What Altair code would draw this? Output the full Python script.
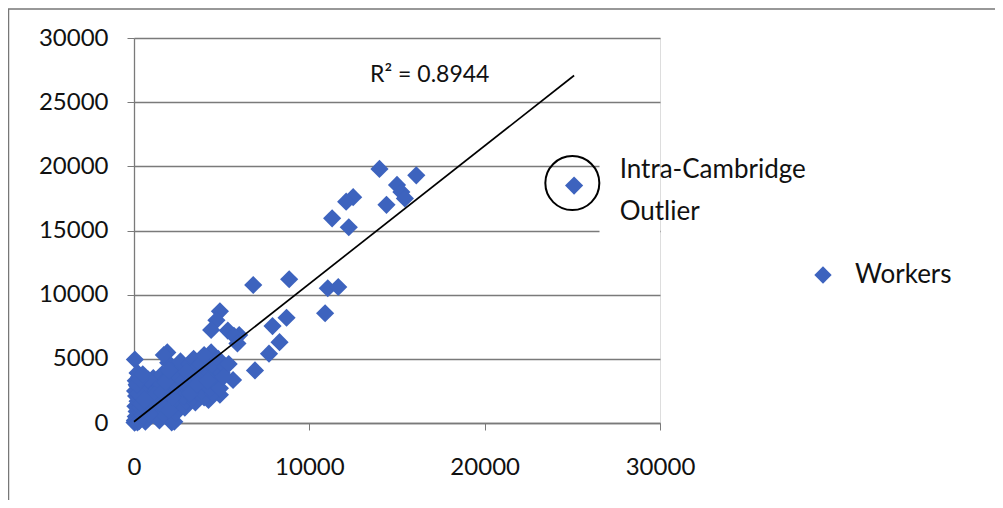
import altair as alt
import pandas as pd

# ---- data ----
worker_x = [
    14000, 16100, 15000, 15250, 15450, 14400, 12500, 12100, 11300, 12250,
    11050, 11650, 10900, 6800, 8850, 8700, 7900, 8300, 7700, 6000,
    4900, 4700, 4400, 5350, 5700, 5900, 6900, 5650, 4900, 4250,
    4000, 4900, 50, 1900, 2150, 25100,
    50, 100, 150, 80, 200, 120, 60, 180, 100, 300,
    250, 400, 350, 500, 450, 550, 400, 600, 700, 650,
    800, 900, 750, 950, 850, 1000, 1100, 1200, 1300, 1150,
    1400, 1250, 1500, 1350, 1600, 1450, 1700, 1800, 1650, 1900,
    1750, 2000, 1850, 2100, 2200, 1950, 2300, 2400, 2250, 2500,
    2350, 2600, 2450, 2700, 2550, 2800, 2650, 2900, 3000, 2850,
    3100, 2950, 3200, 3050, 3300, 3150, 3400, 3500, 3350, 3600,
    3450, 3700, 3550, 3800, 3650, 3900, 4000, 3850, 4100, 3950,
    4200, 4050, 4300, 4150, 4400, 4500, 4350, 4600, 4450, 4700,
    4550, 4800, 5000, 5200, 4900, 30, 100, 200, 300, 500,
    700, 900, 400, 250, 150, 1000, 1200, 1500, 600, 800,
    1600, 2000, 2200, 2400, 2600, 1800, 2000, 1700, 2800, 3000,
    3200, 3600, 3800, 4000, 4200, 200, 350, 500, 5400, 5100,
]
worker_y = [
    19800, 19300, 18550, 18000, 17500, 17000, 17600, 17250, 15950, 15250,
    10500, 10600, 8550, 10750, 11200, 8200, 7550, 6300, 5400, 6850,
    8700, 8000, 7250, 7200, 6800, 6200, 4100, 3350, 2200, 1800,
    4900, 4150, 4950, 5500, 50, 18500,
    200, 500, 900, 1300, 1700, 2100, 2500, 2900, 3300, 3600,
    300, 800, 1200, 1600, 2000, 2400, 2800, 3200, 400, 100,
    900, 1400, 1900, 2300, 2700, 3100, 3500, 600, 1100, 1600,
    2000, 2500, 2900, 3300, 3800, 200, 700, 1300, 1800, 2200,
    2600, 3000, 3400, 3900, 4300, 4700, 100, 800, 1400, 1900,
    2400, 2800, 3200, 3600, 4000, 4400, 4800, 1200, 1700, 2100,
    2600, 3000, 3400, 3800, 4200, 4600, 5000, 1600, 2000, 2400,
    2800, 3200, 3600, 4000, 4400, 4800, 2000, 2500, 3000, 3400,
    3800, 4300, 4600, 5100, 5500, 2300, 2700, 3100, 3500, 4000,
    4400, 5000, 3900, 4400, 2700, 30, 100, 50, 150, 600,
    1100, 700, 1500, 2300, 3000, 1800, 2200, 1500, 1800, 3400,
    2400, 1000, 2000, 2900, 3500, 3200, 4100, 5300, 3300, 4000,
    2300, 3000, 4600, 5300, 3300, 3900, 3400, 3800, 4600, 3600,
]
series_name = "Workers"

trend_x = [0, 25100]
trend_y = [100, 27080]

r2_text = ["R² = 0.8944"]
r2_x = [16870]
r2_y = [27150]

outlier_circle_x = [25000]
outlier_circle_y = [18700]

note_lines = ["Intra-Cambridge", "Outlier"]
note_x = [27700, 27700]
note_y = [19750, 16450]

# ---- tables ----
pts = pd.DataFrame({"x": worker_x, "y": worker_y, "series": [series_name] * len(worker_x)})
trend = pd.DataFrame({"x": trend_x, "y": trend_y})
r2 = pd.DataFrame({"x": r2_x, "y": r2_y, "t": r2_text})
circ = pd.DataFrame({"x": outlier_circle_x, "y": outlier_circle_y})
note = pd.DataFrame({"x": note_x, "y": note_y, "t": note_lines})
cover = pd.DataFrame({"x": [26550], "x2": [30000], "y": [12300], "y2": [21700]})
one = pd.DataFrame({"a": [0]})

FONT = "Lato"
BLUE = "#3D63BE"
GRID = "#7a7a7a"

xscale = alt.Scale(domain=[0, 30000], nice=False, zero=False)
yscale = alt.Scale(domain=[0, 30000], nice=False, zero=False)

x_axis = alt.Axis(values=[0, 10000, 20000, 30000], grid=False, format="d", title=None,
                  labelFont=FONT, labelFontSize=24, labelColor="#111111", labelPadding=25,
                  tickSize=7, tickColor=GRID, domainColor=GRID, domainWidth=1.3, labelFlush=False)
y_axis = alt.Axis(values=[0, 5000, 10000, 15000, 20000, 25000, 30000], grid=True,
                  gridColor=GRID, gridWidth=1.3, format="d", title=None,
                  labelFont=FONT, labelFontSize=24, labelColor="#111111", labelPadding=19,
                  tickSize=7, tickColor=GRID, domainColor=GRID, domainWidth=1.3)

X = lambda: alt.X("x:Q", scale=xscale, axis=x_axis)
Y = lambda: alt.Y("y:Q", scale=yscale, axis=y_axis)

frame = alt.Chart(one).mark_rect(fillOpacity=0, stroke="#777777", strokeWidth=1.5).encode(
    x=alt.value(-125.5), x2=alt.value(880), y=alt.value(-29), y2=alt.value(480))

cover_rect = alt.Chart(cover).mark_rect(color="white").encode(
    x=X(), x2="x2:Q", y=Y(), y2="y2:Q")

line = alt.Chart(trend).mark_line(color="black", strokeWidth=1.7).encode(x=X(), y=Y())

scatter = alt.Chart(pts).mark_point(shape="diamond", filled=True, size=330, opacity=1).encode(
    x=X(), y=Y(),
    color=alt.Color("series:N", scale=alt.Scale(range=[BLUE]),
                    legend=alt.Legend(title=None, orient="none", legendX=676, legendY=224,
                                      symbolType="diamond", symbolSize=300, symbolStrokeWidth=0,
                                      labelFont=FONT, labelFontSize=26, labelColor="#111111",
                                      labelOffset=19, padding=0)))

circle = alt.Chart(circ).mark_point(shape="circle", filled=False, size=2916, color="black",
                                    strokeWidth=2, opacity=1).encode(x=X(), y=Y())

r2_lbl = alt.Chart(r2).mark_text(font=FONT, fontSize=23, color="#111111", align="center",
                                 baseline="middle").encode(x=X(), y=Y(), text="t:N")

note_lbl = alt.Chart(note).mark_text(font=FONT, fontSize=26, color="#111111", align="left",
                                     baseline="middle").encode(x=X(), y=Y(), text="t:N")

chart = alt.layer(frame, cover_rect, scatter, line, circle, r2_lbl, note_lbl).properties(
    width=526, height=385,
    autosize=alt.AutoSizeParams(type="none"),
    padding={"left": 126, "top": 30, "right": 335, "bottom": 77},
).configure_view(stroke=None).configure(background="white")

chart.save("out.html", embed_options={"renderer": "svg", "actions": False})
